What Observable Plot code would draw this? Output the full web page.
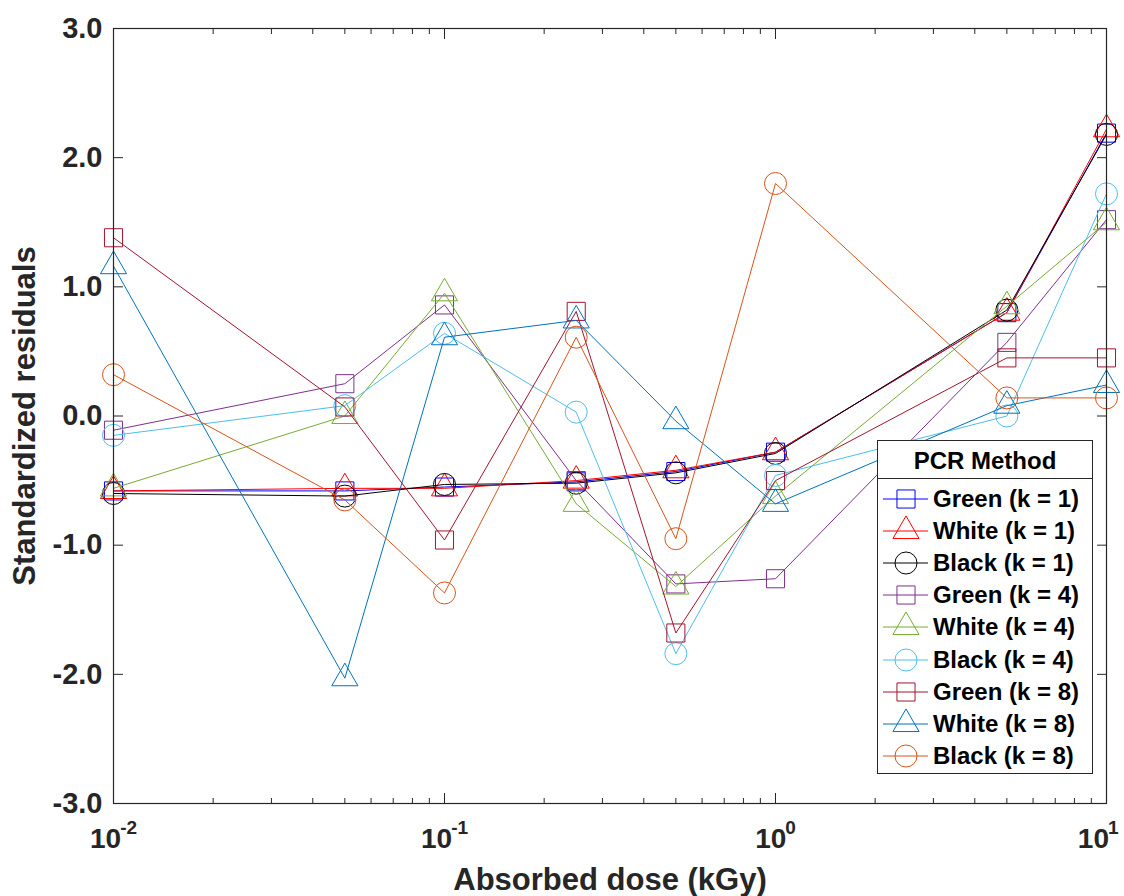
<!DOCTYPE html>
<html>
<head>
<meta charset="utf-8">
<script src="https://cdn.jsdelivr.net/npm/d3@7"></script>
<script src="https://cdn.jsdelivr.net/npm/@observablehq/plot@0.6"></script>
<style>
  body { margin: 0; background: #fff; font-family: "Liberation Sans", Arial, Helvetica, sans-serif; }
  #chart { position: relative; width: 1124px; height: 896px; }
  #legend { position: absolute; left: 877px; top: 440px; width: 214px; height: 332px;
            border: 1px solid #262626; background: #fff; color: #000; font-weight: bold; }
  #legend .title { height: 37px; border-bottom: 1px solid #262626; text-align: center;
                   font-size: 24px; line-height: 40px; }
  #legend .entries { padding-top: 4px; }
  #legend .row { display: flex; align-items: center; height: 32.1px; font-size: 24px; }
  #legend .row svg { flex: none; }
  #legend .row span { margin-left: 3px; white-space: nowrap; }
</style>
</head>
<body>
<div id="chart"></div>
<script>
// ---- data ----
const doses = [0.01, 0.05, 0.1, 0.25, 0.5, 1, 5, 10];

const greenK1 = [-0.58, -0.58, -0.55, -0.51, -0.43, -0.28, 0.80, 2.19];
const whiteK1 = [-0.58, -0.56, -0.56, -0.50, -0.42, -0.28, 0.80, 2.22];
const blackK1 = [-0.60, -0.62, -0.53, -0.52, -0.44, -0.29, 0.82, 2.18];
const greenK4 = [-0.11, 0.25, 0.86, -0.50, -1.30, -1.26, 0.57, 1.52];
const whiteK4 = [-0.56, 0.00, 0.95, -0.68, -1.32, -0.62, 0.85, 1.50];
const blackK4 = [-0.15, 0.08, 0.64, 0.03, -1.84, -0.46, 0.00, 1.72];
const greenK8 = [1.38, 0.07, -0.96, 0.81, -1.68, -0.50, 0.45, 0.45];
const whiteK8 = [1.16, -2.03, 0.61, 0.74, -0.04, -0.68, 0.08, 0.24];
const blackK8 = [0.32, -0.65, -1.37, 0.61, -0.95, 1.80, 0.14, 0.14];

const seriesNames = ["Green (k = 1)", "White (k = 1)", "Black (k = 1)",
                     "Green (k = 4)", "White (k = 4)", "Black (k = 4)",
                     "Green (k = 8)", "White (k = 8)", "Black (k = 8)"];
const seriesValues = [greenK1, whiteK1, blackK1, greenK4, whiteK4, blackK4, greenK8, whiteK8, blackK8];
const seriesColors = ["#0000FF", "#FF0000", "#000000", "#7E2F8E", "#77AC30", "#4DBEEE", "#A2142F", "#0072BD", "#D95319"];
const seriesSymbols = ["square", "triangle", "circle", "square", "triangle", "circle", "square", "triangle", "circle"];

const yTicks = [-3, -2, -1, 0, 1, 2, 3];
const yTickLabels = ["-3.0", "-2.0", "-1.0", "0.0", "1.0", "2.0", "3.0"];
const xTicks = [0.01, 0.1, 1, 10];
const xTickLabels = ["10^-2", "10^-1", "10^0", "10^1"];
const xMinorTicks = [0.01, 0.1, 1].flatMap(d => [2, 3, 4, 5, 6, 7, 8, 9].map(m => +(d * m).toPrecision(3)));

const legendTitle = "PCR Method";
const xLabel = "Absorbed dose (kGy)";
const yLabel = "Standardized residuals";

// ---- table ----
const rows = seriesNames.flatMap((name, i) =>
  doses.map((d, j) => ({series: name, dose: d, value: seriesValues[i][j]})));

const symbolR = {square: 10.2, triangle: 9.7, circle: 11};
const axisColor = "#262626";
const fontFamily = '"Liberation Sans", Arial, Helvetica, sans-serif';

const seriesMarks = seriesNames.flatMap((name, i) => {
  const data = rows.filter(r => r.series === name);
  return [
    Plot.line(data, {x: "dose", y: "value", stroke: "series", strokeWidth: 1}),
    Plot.dot(data, {x: "dose", y: "value", stroke: "series", symbol: "series",
                    fill: "none", strokeWidth: 1, r: symbolR[seriesSymbols[i]]})
  ];
});

const chart = Plot.plot({
  width: 1124,
  height: 896,
  marginLeft: 113,
  marginRight: 18,
  marginTop: 28,
  marginBottom: 93,
  x: {type: "log", domain: [0.01, 10]},
  y: {domain: [-3, 3]},
  color: {domain: seriesNames, range: seriesColors},
  symbol: {domain: seriesNames, range: seriesSymbols},
  style: {fontFamily, fontWeight: "bold", color: axisColor, background: "white", overflow: "visible"},
  marks: [
    ...seriesMarks,
    Plot.frame({stroke: axisColor, strokeWidth: 1.2}),
    // y axis labels + title
    Plot.axisY({anchor: "left", ticks: yTicks, tickSize: 0, tickPadding: 11,
                tickFormat: d => yTickLabels[yTicks.indexOf(d)],
                fontSize: 29, fontWeight: "bold", fill: axisColor,
                label: yLabel, labelAnchor: "center", labelOffset: 101, labelArrow: false}),
    // inside ticks
    Plot.axisY({anchor: "left", ticks: yTicks, tickSize: -10, tickFormat: () => "", label: null, stroke: axisColor}),
    Plot.axisY({anchor: "right", ticks: yTicks, tickSize: -10, tickFormat: () => "", label: null, stroke: axisColor}),
    // x axis labels + title
    Plot.axisX({anchor: "bottom", ticks: xTicks, tickSize: 0, tickPadding: 25,
                tickFormat: d => xTickLabels[xTicks.indexOf(d)],
                fontSize: 28, fontWeight: "bold", fill: axisColor,
                label: xLabel, labelAnchor: "center", labelOffset: 86, labelArrow: false}),
    Plot.axisX({anchor: "bottom", ticks: xTicks, tickSize: -10, tickFormat: () => "", label: null, stroke: axisColor}),
    Plot.axisX({anchor: "bottom", ticks: xMinorTicks, tickSize: -5, tickFormat: () => "", label: null, stroke: axisColor}),
    Plot.axisX({anchor: "top", ticks: xTicks, tickSize: -10, tickFormat: () => "", label: null, stroke: axisColor}),
    Plot.axisX({anchor: "top", ticks: xMinorTicks, tickSize: -5, tickFormat: () => "", label: null, stroke: axisColor})
  ]
});

const container = document.getElementById("chart");
container.appendChild(chart);

// axis label sizes
d3.select(chart).selectAll('[aria-label="y-axis label"] text, [aria-label="x-axis label"] text')
  .attr("font-size", 31).attr("font-weight", "bold").attr("fill", axisColor);

// power-of-ten superscripts on x tick labels
d3.select(chart).selectAll('[aria-label="x-axis tick label"] text').each(function () {
  const t = this.textContent;
  if (!t.includes("^")) return;
  const [base, exp] = t.split("^");
  const sel = d3.select(this);
  sel.text(null);
  sel.append("tspan").text(base);
  sel.append("tspan").attr("dy", "-14").attr("dx", "-1").attr("font-size", 19).text(exp);
  // keep the last label inside the picture, as in the reference
  const box = this.getBBox();
  const m = this.getCTM();
  const right = (m ? m.e : 0) + box.x + box.width;
  if (right > 1119) {
    const shift = right - 1119;
    const prev = sel.attr("transform") || "";
    sel.attr("transform", `translate(${-shift},0) ${prev}`);
  }
});

// ---- legend ----
const legend = document.createElement("div");
legend.id = "legend";
const title = document.createElement("div");
title.className = "title";
title.textContent = legendTitle;
legend.appendChild(title);
const entries = document.createElement("div");
entries.className = "entries";
const symbolMap = {square: d3.symbolSquare, triangle: d3.symbolTriangle, circle: d3.symbolCircle};
seriesNames.forEach((name, i) => {
  const row = document.createElement("div");
  row.className = "row";
  const svg = d3.create("svg").attr("width", 52).attr("height", 32);
  svg.append("line").attr("x1", 5).attr("x2", 50).attr("y1", 16).attr("y2", 16)
     .attr("stroke", seriesColors[i]).attr("stroke-width", 1);
  const r = symbolR[seriesSymbols[i]];
  svg.append("path")
     .attr("d", d3.symbol(symbolMap[seriesSymbols[i]], r * r * Math.PI)())
     .attr("transform", "translate(28,16)")
     .attr("fill", "none").attr("stroke", seriesColors[i]).attr("stroke-width", 1);
  row.appendChild(svg.node());
  const span = document.createElement("span");
  span.textContent = name;
  row.appendChild(span);
  entries.appendChild(row);
});
legend.appendChild(entries);
container.appendChild(legend);
</script>
</body>
</html>
